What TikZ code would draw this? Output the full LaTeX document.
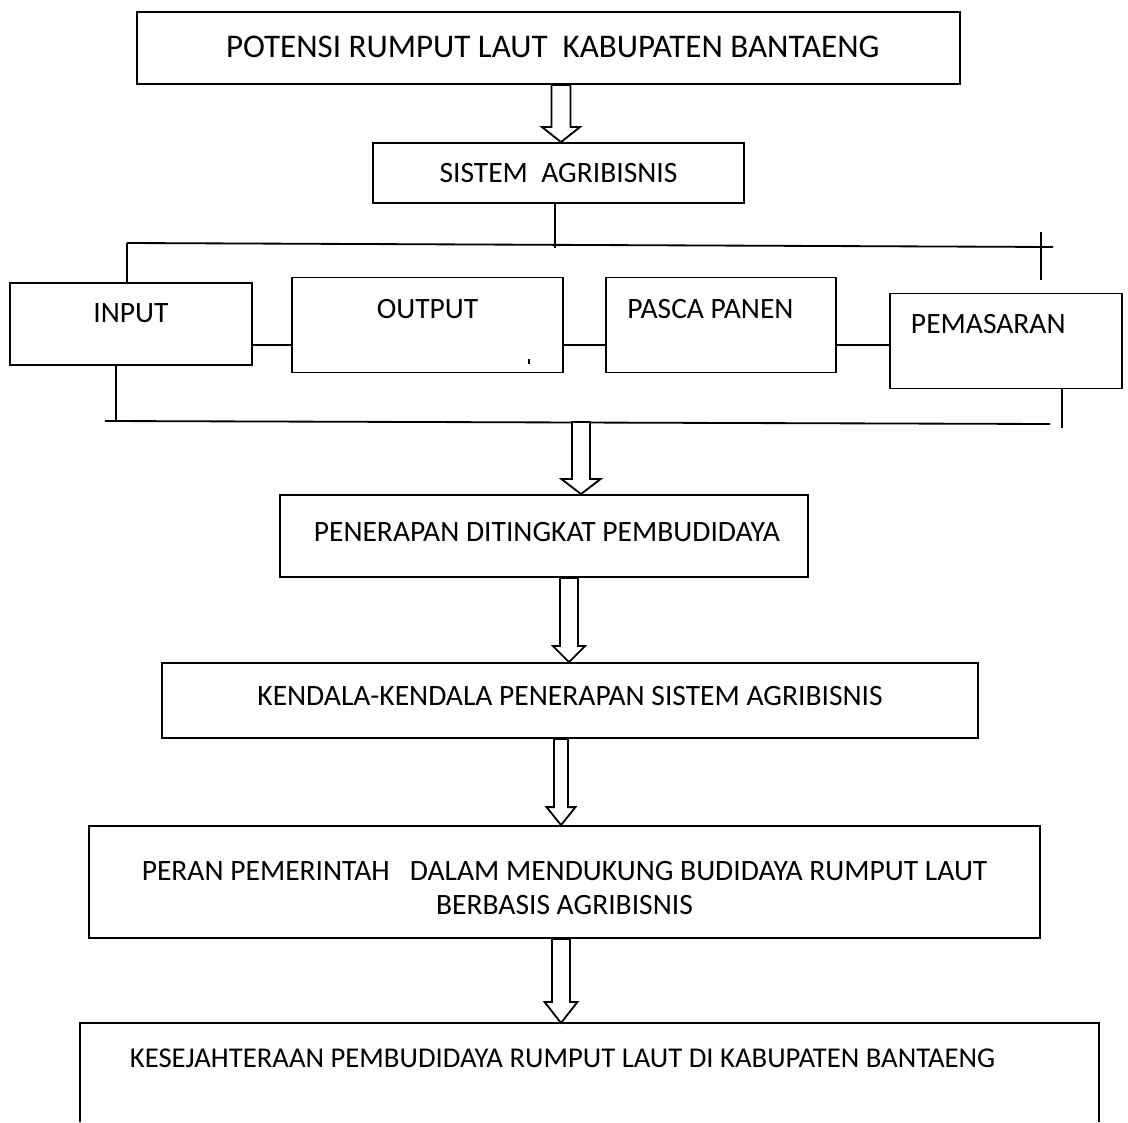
\documentclass[tikz,border=0pt]{standalone}
\usepackage{fontspec}
\setmainfont{Carlito}
\usetikzlibrary{calc}
\tikzset{
  box/.style={draw, line width=1.3pt, minimum width=#1, inner sep=0pt},
  lbl/.style={font=\fontsize{21}{24.2}\selectfont, inner sep=0pt},
  link/.style={line width=1.3pt},
  blockline/.style={line width=1.3pt, fill=white, line join=miter}
}
% hollow block arrow: top point, bottom point, shaft half width, head half width, head length
\newcommand{\blockarrow}[5]{%
  \draw[blockline] let \p1=(#1), \p2=(#2) in
    (\x1-#3,\y1) -- (\x1+#3,\y1) -- (\x1+#3,\y2+#5) -- (\x1+#4,\y2+#5)
    -- (\x1,\y2) -- (\x1-#4,\y2+#5) -- (\x1-#3,\y2+#5) -- cycle;}

\begin{document}
\begin{tikzpicture}[x=0.025cm, y=-0.025cm]
    \useasboundingbox[fill=white] (0,0) rectangle (1128,1122);

    % main chain
    \node[box=823*0.025cm, minimum height=72*0.025cm,
      label={[lbl, font=\fontsize{23.5}{26}\selectfont, xshift=3pt, yshift=0.7pt]center:POTENSI RUMPUT LAUT \ KABUPATEN BANTAENG}]
      (potensi) at (548.5,48) {};
    \node[box=371*0.025cm, minimum height=60*0.025cm,
      label={[lbl]center:SISTEM \ AGRIBISNIS}]
      (sistem) at (558.5,173) {};

    % agribisnis subsystems
    \node[box=242*0.025cm, minimum height=82*0.025cm,
      label={[lbl, yshift=7.8pt]center:INPUT}]
      (input) at (131,324) {};
    \node[box=271*0.025cm, minimum height=95*0.025cm,
      label={[lbl, yshift=11.7pt]center:OUTPUT}]
      (output) at (427.5,325) {};
    \node[box=230*0.025cm, minimum height=95*0.025cm,
      label={[lbl, xshift=-7.5pt, yshift=11.4pt]center:PASCA PANEN}]
      (pasca) at (721,325) {};
    \node[box=232*0.025cm, minimum height=95*0.025cm,
      label={[lbl, xshift=-12.6pt, yshift=12.4pt]center:PEMASARAN}]
      (pemasaran) at (1006,341) {};

    \node[box=528*0.025cm, minimum height=82*0.025cm,
      label={[lbl, xshift=2pt, yshift=3pt]center:PENERAPAN DITINGKAT PEMBUDIDAYA}]
      (penerapan) at (544,536) {};
    \node[box=816*0.025cm, minimum height=75*0.025cm,
      label={[lbl, yshift=3pt]center:KENDALA-KENDALA PENERAPAN SISTEM AGRIBISNIS}]
      (kendala) at (570,700.5) {};
    \node[box=951*0.025cm, minimum height=112*0.025cm,
      label={[lbl, align=center, yshift=-4.3pt]center:PERAN PEMERINTAH \ \ DALAM MENDUKUNG BUDIDAYA RUMPUT LAUT\\BERBASIS AGRIBISNIS}]
      (peran) at (564.5,882) {};
    \node[lbl, font=\fontsize{20.4}{24}\selectfont, anchor=north] (kesejahteraan) at (562.5,1049)
      {KESEJAHTERAAN PEMBUDIDAYA RUMPUT LAUT DI KABUPATEN BANTAENG};

    % open box round the last text
    \coordinate (kesNW) at (80,1023);
    \coordinate (kesNE) at (1099,1023);
    \draw[link] (kesNW |- 0,1122) -- (kesNW) -- (kesNE) -- (kesNE |- 0,1122);

    % bus lines
    \coordinate (topL) at (127,243);
    \coordinate (topR) at (1053,247);
    \coordinate (busL) at (105,421);
    \coordinate (busR) at (1050,424);
    \coordinate (row) at (0,345);
    \draw[link] (topL) -- (topR);
    \draw[link] (busL) -- (busR);
    \draw[link] (sistem.south -| 555,0) -- ++(0,44);
    \draw[link] (topL) -- (topL |- input.north);
    \draw[link] (1041,232) coordinate (tickT) -- (1041,280) coordinate (tickB);
    \draw[link] ($(input.south west)!0.44!(input.south east)$) coordinate (inL) -- (inL |- busL);
    \draw[link] ($(pemasaran.south west)!0.74!(pemasaran.south east)$) -- ++(0,39);
    \draw[link] (input.east |- row) -- (output.west |- row);
    \draw[link] (output.east |- row) -- (pasca.west |- row);
    \draw[link] (pasca.east |- row) -- (pemasaran.west |- row);
    \draw[line width=1.3pt] ($(output.south east)+(-35,-14)$) -- ++(0,5);

    % block arrows
    \blockarrow{$(potensi.south)+(12.5,0)$}{sistem.north}{6.8pt}{13.5pt}{10.7pt}
    \blockarrow{581,422}{penerapan.north}{6.4pt}{13.9pt}{10.7pt}
    \blockarrow{$(penerapan.south)+(25,0)$}{kendala.north}{6.4pt}{11.4pt}{11.4pt}
    \blockarrow{$(kendala.south)+(-9,0)$}{peran.north}{5pt}{10.3pt}{12.8pt}
    \blockarrow{$(peran.south)+(-3.5,0)$}{kesNW -| 561,0}{6.4pt}{11.7pt}{15pt}
\end{tikzpicture}
\end{document}
